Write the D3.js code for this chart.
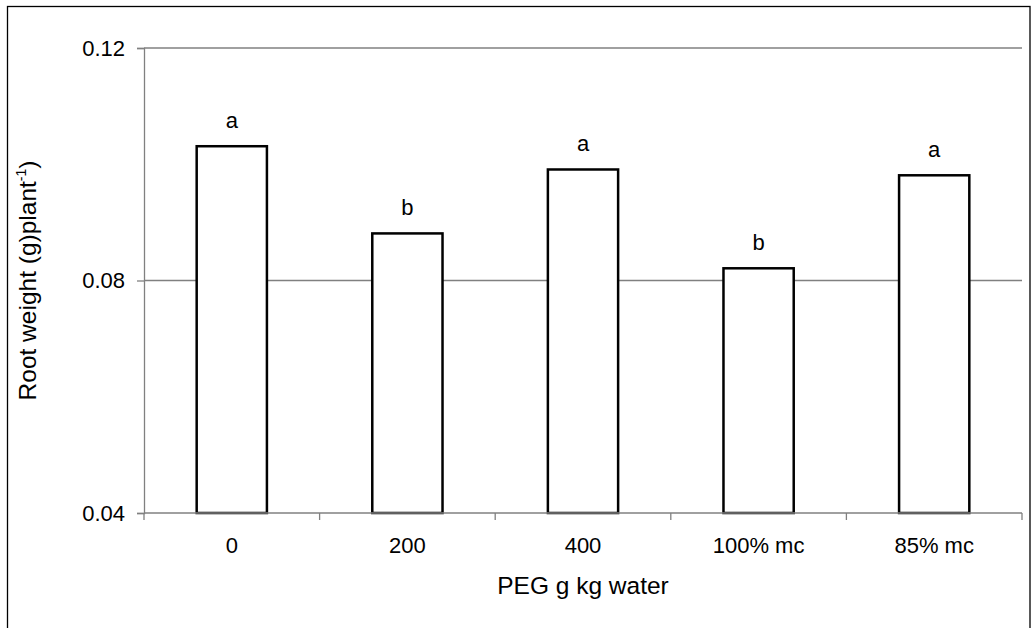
<!DOCTYPE html>
<html>
<head>
<meta charset="utf-8">
<script src="https://cdn.jsdelivr.net/npm/d3@7"></script>
<style>
  body { margin: 0; background: #fff; }
  svg { font-family: "Liberation Sans", Arial, sans-serif; }
</style>
</head>
<body>
<div id="chart"></div>
<script>
// data
const categories = ["0", "200", "400", "100% mc", "85% mc"];
const rootWeight = [0.1031, 0.0881, 0.0991, 0.0821, 0.0981];
const letters = ["a", "b", "a", "b", "a"];
const yTicks = [0.04, 0.08, 0.12];

const width = 1031, height = 628;
const margin = { top: 48, right: 9, bottom: 115, left: 144 };

const svg = d3.select("#chart").append("svg")
  .attr("width", width)
  .attr("height", height);

// outer frame
svg.append("rect")
  .attr("x", 7.5).attr("y", 6.5)
  .attr("width", 1022.5).attr("height", 640)
  .attr("fill", "none").attr("stroke", "#000").attr("stroke-width", 1.3);

const x = d3.scaleBand()
  .domain(categories)
  .range([margin.left, width - margin.right])
  .paddingInner(0.6)
  .paddingOuter(0.3);

const y = d3.scaleLinear()
  .domain([0.04, 0.12])
  .range([height - margin.bottom, margin.top]);

const step = x.step();
const axisColor = "#808080";

// gridlines
svg.append("g").selectAll("line")
  .data(yTicks.filter(d => d > 0.04))
  .join("line")
  .attr("x1", margin.left).attr("x2", width - margin.right)
  .attr("y1", d => y(d)).attr("y2", d => y(d))
  .attr("stroke", axisColor).attr("stroke-width", 1.3);

// y axis
const yAxis = svg.append("g")
  .attr("transform", `translate(${margin.left},0)`)
  .call(d3.axisLeft(y).tickValues(yTicks).tickSize(7).tickPadding(12)
    .tickFormat(d3.format(".2f")));
yAxis.select(".domain").attr("stroke", axisColor).attr("stroke-width", 1.3);
yAxis.selectAll(".tick line").attr("stroke", axisColor).attr("stroke-width", 1.3);
yAxis.selectAll("text").attr("font-size", 22).attr("fill", "#000")
  .attr("font-family", "Liberation Sans, Arial, sans-serif");

// bars
svg.append("g").selectAll("rect")
  .data(categories)
  .join("rect")
  .attr("x", d => x(d))
  .attr("y", (d, i) => y(rootWeight[i]))
  .attr("width", x.bandwidth())
  .attr("height", (d, i) => y(0.04) - y(rootWeight[i]))
  .attr("fill", "#fff")
  .attr("stroke", "#000")
  .attr("stroke-width", 2.5);

// x axis line + boundary ticks
const x0 = y(0.04);
svg.append("line")
  .attr("x1", margin.left).attr("x2", width - margin.right)
  .attr("y1", x0).attr("y2", x0)
  .attr("stroke", axisColor).attr("stroke-width", 1.3);

const bounds = categories.map(d => x(d) - step * x.paddingInner() / 2)
  .concat([width - margin.right]);
bounds[0] = margin.left;
svg.append("g").selectAll("line")
  .data(bounds)
  .join("line")
  .attr("x1", d => d).attr("x2", d => d)
  .attr("y1", x0).attr("y2", x0 + 7)
  .attr("stroke", axisColor).attr("stroke-width", 1.3);

// category labels
svg.append("g").selectAll("text")
  .data(categories)
  .join("text")
  .attr("x", d => x(d) + x.bandwidth() / 2)
  .attr("y", x0 + 40)
  .attr("text-anchor", "middle")
  .attr("font-size", 22)
  .text(d => d);

// significance letters
svg.append("g").selectAll("text")
  .data(categories)
  .join("text")
  .attr("x", d => x(d) + x.bandwidth() / 2)
  .attr("y", (d, i) => y(rootWeight[i]) - 18)
  .attr("text-anchor", "middle")
  .attr("font-size", 22)
  .text((d, i) => letters[i]);

// axis titles
svg.append("text")
  .attr("x", (margin.left + width - margin.right) / 2)
  .attr("y", 594)
  .attr("text-anchor", "middle")
  .attr("font-size", 24.5)
  .text("PEG g kg water");

const yTitle = svg.append("text")
  .attr("transform", `translate(36,${(margin.top + x0) / 2}) rotate(-90)`)
  .attr("text-anchor", "middle")
  .attr("font-size", 24.5);
yTitle.append("tspan").text("Root weight (g)plant");
yTitle.append("tspan").attr("font-size", 14).attr("dy", -10).text("-1");
yTitle.append("tspan").attr("dy", 10).text(")");
</script>
</body>
</html>
